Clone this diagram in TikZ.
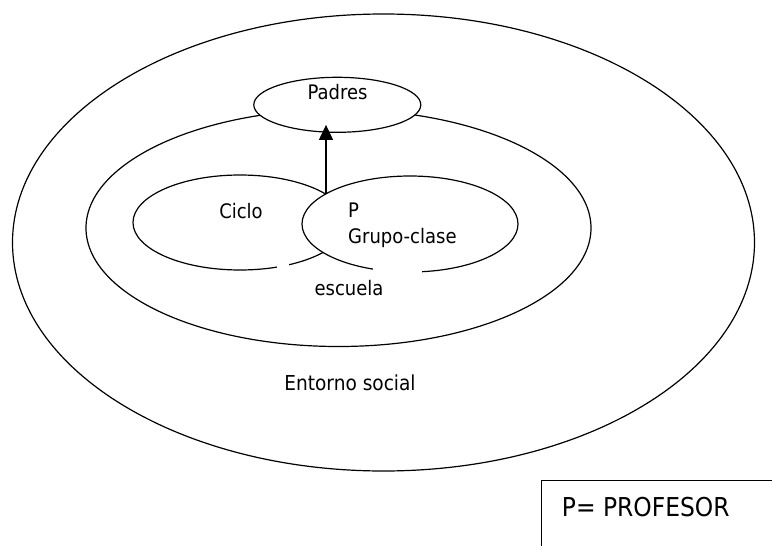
\documentclass[tikz,border=0pt]{standalone}
\usepackage{fontspec}
\setmainfont{DejaVu Sans}[FakeStretch=0.9]
\usetikzlibrary{shapes.geometric,arrows.meta}
\begin{document}
\begin{tikzpicture}[x=1pt,y=-1pt,
  ring/.style={draw,ellipse,line width=1.2pt,inner sep=0pt,fill=white},
  lbl/.style={font=\fontsize{20}{24}\selectfont,inner sep=0pt,anchor=base},
  legend/.style={font=\fontsize{26}{30}\selectfont,inner sep=0pt,anchor=base west},
  link/.style={line width=1.2pt,-{Triangle[length=15pt,width=14pt]}}
]
\useasboundingbox (0,0) rectangle (772,546);
\node[ring,minimum width=742pt,minimum height=457pt] (env) at (383.5,242.5) {};
\node[ring,minimum width=505pt,minimum height=237pt] (esc) at (338.5,228) {};
\node[ring,minimum width=214pt,minimum height=95pt] (ciclo) at (240,222.5) {};
\node[ring,minimum width=216pt,minimum height=96pt] (gc) at (410,224) {};
\node[ring,minimum width=167pt,minimum height=55pt] (pa) at (337.3,104.8) {};
% gaps in the lower outlines
\fill[white] (277,261) rectangle (289,276);
\fill[white] (373,261) rectangle (422,277);
% arrow from the crossing of the two ellipses up to Padres
\coordinate (ix) at (326,194);
\draw[link,shorten >=-8pt] (ix) -- (ix |- pa.south);
% labels
\node[lbl] (tpa) at (337.5,99.5) {Padres};
\node[lbl] (tci) at (241,218.3) {Ciclo};
\node[lbl,anchor=base west] (tp) at (348,217.3) {P};
\node[lbl,anchor=base west] (tgc) at (348,243.3) {Grupo-clase};
\node[lbl] (tesc) at (349,295) {escuela};
\node[lbl,font=\fontsize{20.6}{24}\selectfont] (tenv) at (350,390) {Entorno social};
% legend box (only top and left edges visible)
\coordinate (lgA) at (772,480.7);
\coordinate (lgB) at (541.7,480.7);
\coordinate (lgC) at (541.7,546);
\draw[line width=1.2pt] (lgA) -- (lgB) -- (lgC);
\node[legend] (tleg) at (561.7,516) {P= PROFESOR};
\end{tikzpicture}
\end{document}
